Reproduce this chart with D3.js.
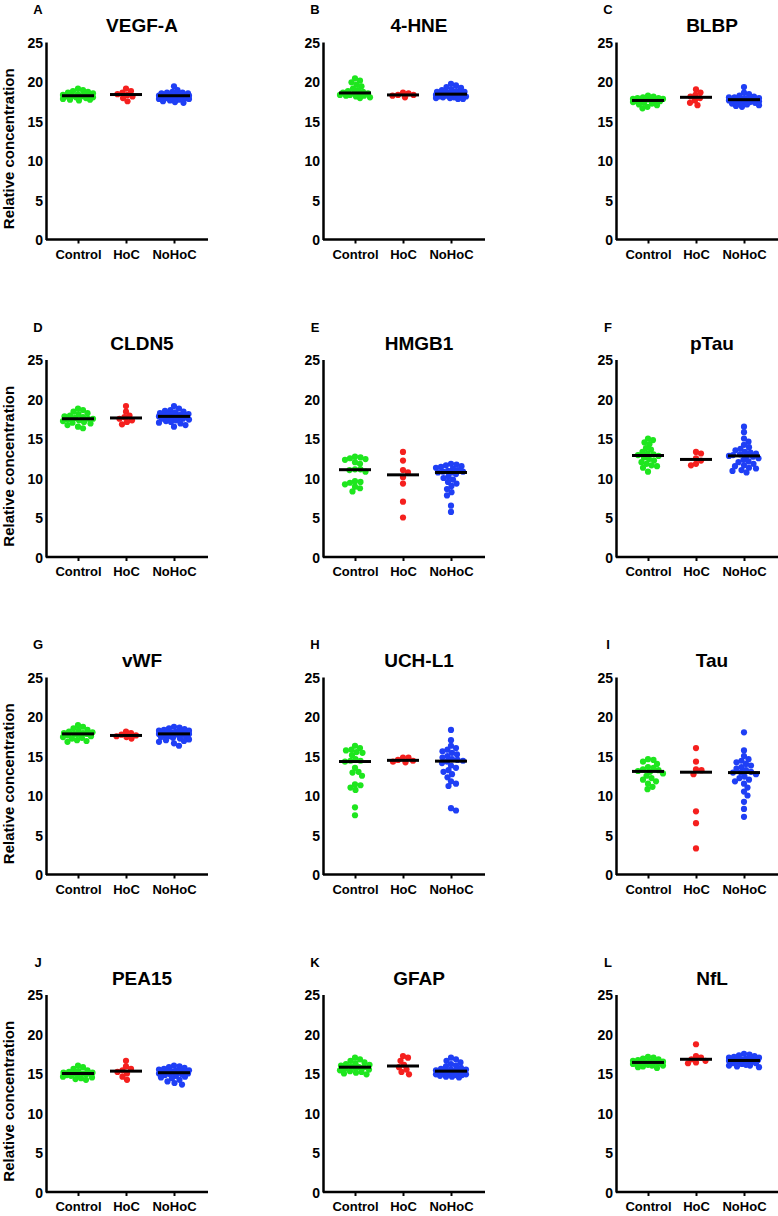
<!DOCTYPE html>
<html><head><meta charset="utf-8">
<script src="https://cdn.jsdelivr.net/npm/d3@7"></script>
<style>body{margin:0;background:#fff}svg{display:block}text{font-family:Arial,"Liberation Sans",sans-serif;font-weight:bold;fill:#000}</style>
</head><body>
<script>
const panelLetters = ["A","B","C","D","E","F","G","H","I","J","K","L"];
const markers = ["VEGF-A","4-HNE","BLBP","CLDN5","HMGB1","pTau","vWF","UCH-L1","Tau","PEA15","GFAP","NfL"];
const groups = ["Control","HoC","NoHoC"];
const yTicks = [0,5,10,15,20,25];
const controlValues = [
 [19.1,18.9,18.8,18.7,18.6,18.5,18.4,18.3,18.3,18.2,18.2,18.1,18.1,18.0,18.0,17.9,17.8,17.7,17.7,17.6],
 [20.4,20.1,19.9,19.6,19.4,19.1,18.9,18.8,18.7,18.6,18.5,18.5,18.4,18.3,18.3,18.2,18.2,18.1,18.0,17.9],
 [18.2,18.1,18.0,17.9,17.9,17.8,17.8,17.7,17.7,17.6,17.6,17.5,17.5,17.4,17.3,17.2,17.1,17.0,16.8,16.6],
 [18.8,18.6,18.4,18.2,18.1,17.9,17.8,17.7,17.6,17.5,17.5,17.4,17.3,17.2,17.1,17.0,16.9,16.7,16.5,16.3],
 [12.7,12.6,12.5,12.4,12.3,12.0,11.8,11.1,11.1,11.0,10.8,9.6,9.5,9.4,9.2,8.9,8.7,8.3],
 [15.0,14.8,14.5,14.3,13.8,13.6,13.3,13.1,13.0,12.9,12.8,12.6,12.4,12.2,12.0,11.8,11.6,11.5,11.3,10.8],
 [18.9,18.7,18.5,18.3,18.2,18.1,18.0,17.9,17.9,17.8,17.8,17.7,17.6,17.5,17.4,17.3,17.2,17.0,16.9,16.8],
 [16.3,16.0,15.8,15.7,15.5,15.4,15.1,14.6,14.4,14.4,14.3,13.5,13.0,12.9,12.5,11.4,11.3,11.0,10.7,8.5,7.5],
 [14.6,14.5,14.3,14.0,13.6,13.5,13.3,13.2,13.1,13.0,12.8,12.5,12.2,12.0,11.8,11.5,11.1,10.8],
 [16.0,15.8,15.6,15.4,15.3,15.2,15.1,15.1,15.0,15.0,15.0,14.9,14.9,14.8,14.7,14.6,14.5,14.4,14.3,14.2],
 [17.0,16.8,16.6,16.4,16.3,16.2,16.1,16.0,15.9,15.8,15.8,15.7,15.6,15.5,15.4,15.3,15.2,15.1,15.0,14.9],
 [17.1,17.0,16.9,16.8,16.7,16.6,16.5,16.5,16.4,16.4,16.4,16.3,16.3,16.2,16.1,16.0,16.0,15.9,15.8,15.7]
];
const hocValues = [
 [19.1,18.8,18.6,18.4,18.3,18.1,17.9,17.5],
 [18.6,18.5,18.3,18.3,18.2,18.0],
 [19.0,18.6,18.3,18.1,17.9,17.6,17.3,17.0],
 [19.1,18.4,17.9,17.7,17.5,17.3,17.1,16.8],
 [13.3,12.2,11.0,10.7,10.1,9.3,7.0,5.0],
 [13.3,13.1,12.5,12.2,11.8,11.6],
 [18.1,17.9,17.7,17.6,17.5,17.4,17.2],
 [14.8,14.8,14.5,14.4,14.3,14.2],
 [16.0,14.3,13.3,13.2,12.7,8.0,6.5,3.3],
 [16.6,15.9,15.6,15.4,15.2,15.0,14.6,14.2],
 [17.2,17.0,16.6,16.1,15.8,15.5,15.2,14.9],
 [18.7,17.2,17.0,16.8,16.6,16.4,16.3]
];
const nohocValues = [
 [19.4,18.9,18.7,18.6,18.6,18.5,18.5,18.4,18.4,18.3,18.3,18.3,18.2,18.2,18.2,18.2,18.1,18.1,18.1,18.0,18.0,17.9,17.9,17.8,17.8,17.7,17.6,17.5,17.4,17.3],
 [19.7,19.5,19.3,19.2,19.0,18.9,18.8,18.7,18.7,18.6,18.6,18.5,18.5,18.4,18.4,18.3,18.3,18.3,18.2,18.2,18.1,18.1,18.0,18.0,17.9,17.9,17.8,17.8],
 [19.3,18.6,18.4,18.2,18.1,18.0,18.0,17.9,17.9,17.8,17.8,17.8,17.7,17.7,17.7,17.6,17.6,17.5,17.5,17.4,17.4,17.3,17.3,17.2,17.1,17.0,16.9,16.8],
 [19.1,18.8,18.6,18.5,18.4,18.3,18.2,18.1,18.1,18.0,18.0,17.9,17.9,17.8,17.8,17.8,17.7,17.7,17.6,17.6,17.5,17.5,17.4,17.3,17.2,17.1,17.0,16.9,16.7,16.5],
 [11.8,11.7,11.6,11.5,11.4,11.3,11.2,11.0,10.9,10.8,10.8,10.7,10.7,10.5,10.2,10.0,9.8,9.5,9.3,9.0,8.6,8.2,7.8,6.5,5.7],
 [16.5,15.8,15.0,14.6,14.2,13.9,13.7,13.5,13.3,13.2,13.1,13.0,12.9,12.8,12.8,12.7,12.5,12.3,12.1,12.0,11.8,11.6,11.5,11.3,11.2,11.0,10.9,10.7],
 [18.7,18.6,18.5,18.4,18.3,18.2,18.2,18.1,18.1,18.0,18.0,17.9,17.9,17.8,17.8,17.8,17.7,17.7,17.6,17.5,17.5,17.4,17.3,17.2,17.1,17.0,16.9,16.8,16.6,16.3],
 [18.3,17.0,16.3,16.0,15.8,15.6,15.4,15.2,15.0,14.8,14.6,14.5,14.4,14.3,14.1,13.8,13.5,13.2,13.0,12.7,12.3,11.8,11.5,11.2,8.4,8.1],
 [18.0,15.7,15.0,14.6,14.4,14.2,14.0,13.8,13.6,13.4,13.2,13.0,12.9,12.9,12.7,12.4,12.2,12.0,11.8,11.5,11.0,10.5,10.0,9.2,8.3,7.3],
 [16.0,15.9,15.8,15.7,15.6,15.5,15.4,15.4,15.3,15.3,15.2,15.2,15.1,15.1,15.1,15.0,15.0,14.9,14.9,14.8,14.7,14.6,14.5,14.4,14.2,14.0,13.8,13.6],
 [17.0,16.8,16.6,16.4,16.2,16.0,15.9,15.7,15.6,15.5,15.5,15.4,15.4,15.3,15.3,15.2,15.2,15.1,15.0,15.0,14.9,14.9,14.8,14.8,14.7,14.6,14.6,14.5],
 [17.5,17.4,17.3,17.2,17.1,17.0,17.0,16.9,16.9,16.8,16.8,16.7,16.7,16.7,16.6,16.6,16.5,16.5,16.4,16.4,16.3,16.3,16.2,16.1,16.0,16.0,15.9,15.8]
];
const groupColors = ["#1ee61e","#f5201e","#1f3ff5"];

const W = 778, H = 1216;
const colX = [46, 323, 616];
const rowZero = [239.5, 557, 874.5, 1192];
const plotH = 197.5, axisW = 162, dotR = 3.1;

const svg = d3.select("body").append("svg").attr("width", W).attr("height", H);

function swarm(vals, y, cx) {
  const placed = [];
  const sorted = vals.map(v => ({v, y: y(v)})).sort((a,b) => a.y - b.y);
  const d = 5.2, maxOff = 15;
  sorted.forEach(p => {
    let best = null;
    for (let k = 0; k <= maxOff * 2 && best === null; k++) {
      const cands = k === 0 ? [0] : [k * 0.5, -k * 0.5];
      for (const off of cands) {
        const ok = placed.every(q => (q.x - off) ** 2 + (q.y - p.y) ** 2 >= d * d);
        if (ok) { best = off; break; }
      }
    }
    if (best === null) {
      let bestScore = Infinity;
      for (let off = -maxOff; off <= maxOff; off += 1) {
        const s = d3.min(placed, q => (q.x - off) ** 2 + (q.y - p.y) ** 2);
        if (-s < bestScore) { bestScore = -s; best = off; }
      }
    }
    placed.push({x: best, y: p.y});
    p.x = cx + best;
  });
  return sorted;
}

markers.forEach((name, i) => {
  const col = i % 3, row = Math.floor(i / 3);
  const ax = colX[col], y0 = rowZero[row], yTop = y0 - plotH;
  const g = svg.append("g");
  const y = d3.scaleLinear().domain([0, 25]).range([y0, yTop]);
  const x = d3.scalePoint().domain(groups).range([ax + 32, ax + 128]);

  const yAxis = g.append("g").attr("transform", `translate(${ax},0)`)
    .call(d3.axisLeft(y).tickValues(yTicks).tickSize(0).tickPadding(3));
  yAxis.select(".domain").attr("stroke", "#000").attr("stroke-width", 2.5);
  yAxis.selectAll("text").style("font-size", "14px").attr("dy", "0.36em");

  const xAxis = g.append("g").attr("transform", `translate(0,${y0})`)
    .call(d3.axisBottom(x).tickSize(4).tickSizeOuter(0).tickPadding(6));
  xAxis.select(".domain").attr("d", `M${ax},0H${ax + axisW}`).attr("stroke", "#000").attr("stroke-width", 2.5);
  xAxis.selectAll(".tick line").attr("stroke", "#000").attr("stroke-width", 2);
  xAxis.selectAll("text").style("font-size", "13px");

  g.append("text").attr("x", ax + 96).attr("y", yTop - 10).attr("text-anchor", "middle")
    .style("font-size", "19px").text(name);
  g.append("text").attr("x", ax - 8).attr("y", yTop - 28).attr("text-anchor", "middle")
    .style("font-size", "13px").text(panelLetters[i]);
  if (col === 0) {
    g.append("text").attr("transform", `translate(14,${(y0 + yTop) / 2 + 8}) rotate(-90)`)
      .attr("text-anchor", "middle").style("font-size", "15px").text("Relative concentration");
  }

  const sets = [controlValues[i], hocValues[i], nohocValues[i]];
  sets.forEach((vals, gi) => {
    const cx = x(groups[gi]);
    const pts = swarm(vals, y, cx);
    g.append("g").selectAll("circle").data(pts).join("circle")
      .attr("cx", d => d.x).attr("cy", d => d.y).attr("r", dotR).attr("fill", groupColors[gi]);
    const med = d3.median(vals);
    g.append("line").attr("x1", cx - 16).attr("x2", cx + 16)
      .attr("y1", y(med)).attr("y2", y(med)).attr("stroke", "#000").attr("stroke-width", 3);
  });
});
</script>
</body></html>
